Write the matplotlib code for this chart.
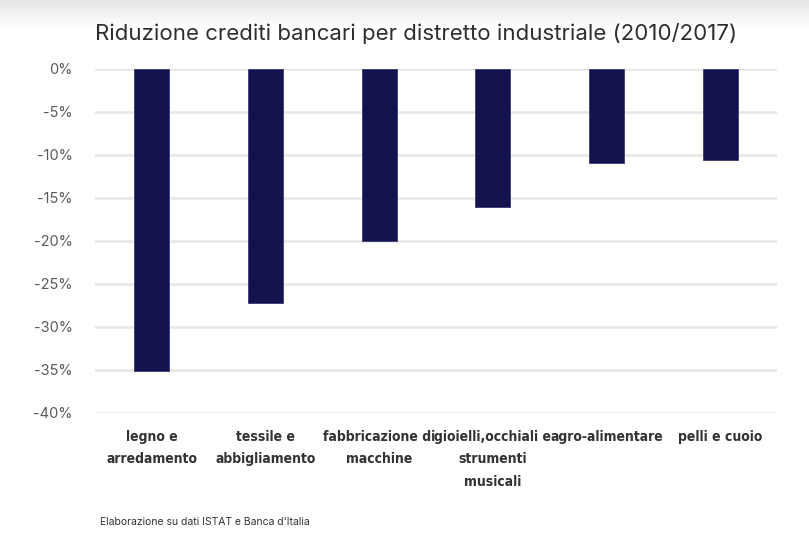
import numpy as np
import matplotlib
matplotlib.use("Agg")
import matplotlib.pyplot as plt

# data
categories = ["legno e\narredamento", "tessile e\nabbigliamento", "fabbricazione di\nmacchine",
              "gioielli,occhiali e\nstrumenti\nmusicali", "agro-alimentare", "pelli e cuoio"]
values = [-35.1, -27.2, -20.0, -16.0, -10.9, -10.6]
yticks = [0, -5, -10, -15, -20, -25, -30, -35, -40]

fig = plt.figure(figsize=(8.09, 5.51), dpi=100)
fig.patch.set_facecolor("white")

# soft grey band at the very top
band = fig.add_axes([0, 0.95, 1, 0.05])
grad = np.linspace(0.90, 1.0, 50).reshape(-1, 1)
band.imshow(np.dstack([grad, grad, grad]), aspect="auto", extent=[0, 1, 0, 1])
band.axis("off")

ax = fig.add_axes([0.1174, 0.2505, 0.843, 0.6243])
x = np.arange(len(categories))
ax.bar(x, values, width=0.31, color="#12124f", edgecolor="#3a3a6e", linewidth=0.6, zorder=3)

ax.set_xlim(-0.5, len(categories) - 0.5)
ax.set_ylim(-40, 0)
ax.set_yticks(yticks)
ax.set_yticklabels([f"{t}%" for t in yticks], fontsize=10.5, color="#5a5a5a", family="Inter")
ax.yaxis.grid(True, color="#e6e6e6", linewidth=1.8, zorder=0)
ax.tick_params(axis="y", length=0, pad=16)
ax.tick_params(axis="x", length=0, pad=12)
ax.set_xticks(x)
ax.set_xticklabels(categories, fontsize=10, color="#333333", fontweight="heavy",
                   family="DejaVu Sans", stretch="condensed", linespacing=1.8, va="top")
for s in ax.spines.values():
    s.set_visible(False)

fig.text(0.117, 0.94, "Riduzione crediti bancari per distretto industriale (2010/2017)",
         fontsize=16, color="#2e2e2e", family="Inter", va="center", ha="left")
fig.text(0.124, 0.052, "Elaborazione su dati ISTAT e Banca d'Italia",
         fontsize=7.5, color="#333333", family="Inter", va="center", ha="left")

fig.savefig("out.png", dpi=100)
